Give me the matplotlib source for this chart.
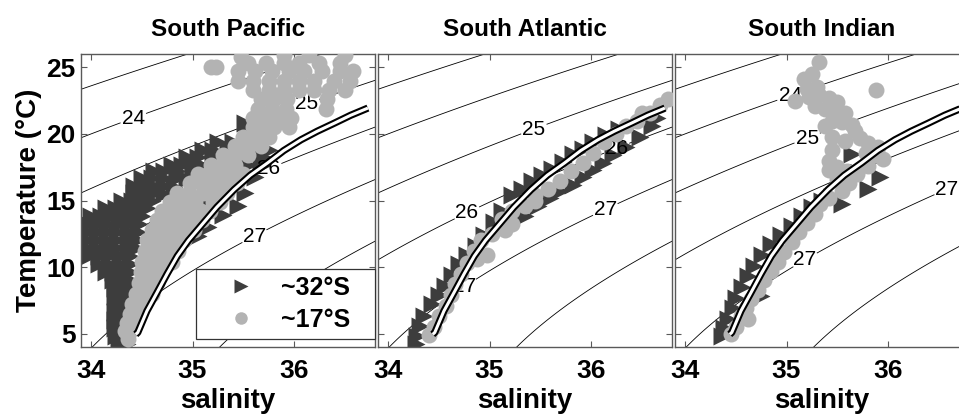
import numpy as np
import matplotlib
matplotlib.use('Agg')
import matplotlib.pyplot as plt
from matplotlib.lines import Line2D

plt.rcParams['font.family'] = ['Liberation Sans', 'DejaVu Sans']

titles = ['South Pacific', 'South Atlantic', 'South Indian']
legend_labels = ['~32\u00b0S', '~17\u00b0S']
sig_levels = [22, 23, 24, 25, 26, 27, 28]

# reference curve (salinity, temperature)
curve_s = [34.44, 34.46, 34.55, 34.65, 34.75, 34.85, 34.96, 35.08, 35.24, 35.41,
           35.57, 35.74, 35.90, 36.07, 36.23, 36.40, 36.56, 36.73]
curve_t = [4.95, 5.09, 6.70, 8.09, 9.50, 10.83, 12.00, 13.07, 14.50, 15.82,
           16.90, 17.82, 18.75, 19.56, 20.20, 20.81, 21.40, 21.94]

# contour label spots (S, T)
lab_pac = [(34.42, 21.1), (36.13, 22.1), (35.75, 17.44), (35.61, 12.33)]
lab_atl = [(35.44, 20.31), (36.26, 18.8), (34.78, 14.02), (36.15, 14.2), (34.76, 8.46)]
lab_ind = [(35.04, 22.76), (35.21, 19.56), (35.68, 17.0), (36.59, 15.7), (35.19, 10.45)]

# ~32S, South Pacific
pac_dark = [
    (35.52, 20.8), (35.55, 20.2), (35.25, 19.4), (35.4, 19.4), (35.35, 18.9),
    (35.1, 18.8), (35.2, 18.8), (35.75, 18.8),
    (34.95, 18.3), (35.05, 18.3), (35.2, 18.3), (35.7, 18.3),
    (34.8, 17.7), (34.9, 17.7), (35.0, 17.7), (35.1, 17.6), (35.55, 17.7), (35.68, 17.6),
    (34.62, 17.2), (34.72, 17.2), (34.85, 17.2), (35.0, 17.2),
    (34.5, 16.7), (34.6, 16.7), (34.72, 16.7), (34.85, 16.7), (34.95, 16.6), (35.5, 16.7), (35.62, 16.8),
    (34.42, 16.1), (34.52, 16.1), (34.62, 16.1), (34.72, 16.1), (34.82, 16.0),
    (34.42, 15.6), (34.52, 15.6), (34.62, 15.6), (34.72, 15.5), (35.3, 15.5), (35.52, 15.6),
    (34.3, 15.0), (34.4, 15.0), (34.5, 15.0), (34.6, 15.0), (35.05, 15.1), (35.15, 15.0),
    (34.15, 14.4), (34.25, 14.4), (34.35, 14.4), (34.45, 14.4), (34.55, 14.4), (35.1, 14.4), (35.45, 14.6),
    (34.0, 13.8), (34.1, 13.8), (34.2, 13.8), (34.3, 13.8), (34.4, 13.8), (34.5, 13.8), (35.3, 13.9),
    (33.97, 13.2), (34.07, 13.2), (34.17, 13.2), (34.27, 13.2), (34.37, 13.2), (34.47, 13.2), (35.15, 13.0),
    (33.96, 12.6), (34.06, 12.6), (34.16, 12.6), (34.26, 12.6), (34.36, 12.6), (34.46, 12.6), (35.05, 12.3),
    (33.96, 12.0), (34.06, 12.0), (34.16, 12.0), (34.26, 12.0), (34.36, 12.0), (34.45, 12.0),
    (33.96, 11.4), (34.06, 11.4), (34.16, 11.4), (34.26, 11.4), (34.36, 11.4), (34.44, 11.4),
    (33.98, 10.8), (34.08, 10.8), (34.18, 10.8), (34.28, 10.8), (34.38, 10.8),
    (34.08, 10.2), (34.18, 10.2), (34.28, 10.2), (34.38, 10.2),
    (34.15, 9.6), (34.22, 9.6), (34.3, 9.6), (34.38, 9.6),
    (34.22, 9.0), (34.3, 9.0), (34.38, 9.0),
    (34.24, 8.4), (34.32, 8.4), (34.4, 8.4),
    (34.24, 7.8), (34.32, 7.8), (34.25, 7.2), (34.33, 7.2),
    (34.24, 6.6), (34.32, 6.6), (34.24, 6.0), (34.32, 6.0),
    (34.24, 5.4), (34.32, 5.4), (34.25, 4.8), (34.33, 4.8),
    (34.27, 4.2), (34.35, 4.2),
]

# ~17S, South Pacific
pac_light = [
    (34.36, 4.6), (34.33, 5.2), (34.38, 5.2), (34.35, 5.8), (34.42, 5.8),
    (34.38, 6.5), (34.47, 6.5), (34.4, 7.2), (34.5, 7.2), (34.44, 8.0), (34.54, 8.0), (34.6, 8.0),
    (34.47, 8.8), (34.57, 8.8), (34.65, 8.8),
    (34.49, 9.6), (34.6, 9.6), (34.7, 9.6),
    (34.5, 10.4), (34.62, 10.4), (34.74, 10.4), (34.8, 10.4),
    (34.53, 11.2), (34.64, 11.2), (34.76, 11.2), (34.86, 11.2),
    (34.55, 12.0), (34.67, 12.0), (34.79, 12.0), (34.92, 12.0),
    (34.6, 12.8), (34.72, 12.8), (34.84, 12.8), (34.96, 12.8), (35.01, 12.8),
    (34.65, 13.5), (34.77, 13.5), (34.9, 13.5), (35.03, 13.5), (35.09, 13.5),
    (34.7, 14.2), (34.82, 14.2), (34.95, 14.2), (35.08, 14.2), (35.17, 14.2),
    (34.78, 14.9), (34.9, 14.9), (35.02, 14.9), (35.2, 14.9), (35.27, 14.9),
    (34.85, 15.6), (34.97, 15.6), (35.1, 15.6), (35.22, 15.6), (35.34, 15.6),
    (34.98, 16.3), (35.08, 16.3), (35.2, 16.3), (35.32, 16.3), (35.44, 16.3),
    (35.05, 17.0), (35.15, 17.0), (35.28, 17.0), (35.4, 17.0), (35.5, 17.0),
    (35.18, 17.7), (35.3, 17.7), (35.42, 17.7),
    (35.3, 18.4), (35.42, 18.4), (35.55, 18.4),
    (35.42, 19.1), (35.55, 19.1), (35.68, 19.1),
    (35.5, 19.8), (35.62, 19.8), (35.75, 19.8),
    (35.6, 20.5), (35.7, 20.5), (35.8, 20.5), (35.95, 20.5),
    (35.6, 21.2), (35.72, 21.2), (35.85, 21.2), (35.97, 21.2),
    (35.65, 21.9), (35.78, 21.9), (35.92, 21.9), (36.32, 21.9),
    (35.68, 22.6), (35.8, 22.6), (35.93, 22.6), (36.33, 22.6),
    (35.6, 23.3), (35.75, 23.3), (35.9, 23.3), (36.05, 23.3), (36.2, 23.3), (36.35, 23.3), (36.5, 23.3),
    (35.45, 24.0), (35.6, 24.0), (35.75, 24.0), (35.9, 24.0), (36.05, 24.0), (36.2, 24.0), (36.4, 24.0), (36.55, 24.0),
    (35.45, 24.7), (35.62, 24.7), (35.78, 24.7), (35.95, 24.7), (36.1, 24.7), (36.28, 24.7), (36.45, 24.7), (36.58, 24.7),
    (35.55, 25.3), (35.72, 25.3), (35.9, 25.3), (36.05, 25.3), (36.25, 25.3), (36.45, 25.3),
    (35.48, 25.8), (35.9, 25.9), (36.15, 25.9), (36.5, 25.9),
    (35.18, 25.0), (35.23, 25.0),
]

# ~32S, South Atlantic
atl_dark = [
    (34.27, 4.2), (34.28, 4.85), (34.31, 5.6), (34.35, 6.3), (34.43, 7.2), (34.5, 7.9),
    (34.56, 8.6), (34.63, 9.4), (34.7, 10.2), (34.78, 10.9), (34.87, 11.6), (34.95, 12.4),
    (35.04, 13.4), (35.12, 14.2), (35.22, 15.4), (35.32, 15.9), (35.42, 16.5), (35.52, 16.9),
    (35.62, 17.4), (35.72, 17.9), (35.82, 18.5), (35.92, 18.9), (36.02, 19.4), (36.15, 19.9),
    (36.28, 20.4),
    (35.35, 13.8), (35.48, 14.6), (35.6, 15.2), (35.7, 15.7), (35.82, 16.2), (35.92, 16.8),
    (36.02, 17.3), (36.12, 17.8), (36.22, 18.4), (36.35, 19.0), (36.48, 19.8), (36.6, 20.6),
    (36.65, 21.2),
]

# ~17S, South Atlantic
atl_light = [
    (34.4, 4.9), (34.45, 5.5), (34.5, 6.3), (34.57, 7.1), (34.62, 7.9), (34.66, 8.7),
    (34.72, 9.5), (34.78, 10.3), (34.88, 10.6), (34.98, 10.9), (34.85, 11.2), (34.92, 12.0),
    (35.02, 12.5), (35.15, 12.8), (35.22, 13.2), (35.12, 13.6), (35.22, 14.2), (35.35, 14.6),
    (35.45, 15.0), (35.45, 15.4), (35.58, 15.9), (35.7, 16.5), (35.8, 17.2), (35.92, 17.8),
    (36.02, 18.6), (36.13, 19.4), (36.25, 20.0), (36.35, 20.6), (36.45, 21.0), (36.58, 21.6),
    (36.68, 22.2), (36.76, 22.6), (36.5, 21.6),
]

# ~32S, South Indian
ind_dark = [
    (34.36, 4.8), (34.38, 5.4), (34.42, 6.1), (34.47, 6.9), (34.5, 7.7), (34.56, 8.5),
    (34.62, 9.3), (34.68, 10.1), (34.76, 10.9), (34.85, 11.7), (34.95, 12.4), (35.05, 13.1),
    (35.15, 13.8), (35.25, 14.5), (35.35, 15.0), (35.45, 15.3), (35.55, 14.7),
    (35.8, 15.9), (35.92, 16.8), (35.65, 18.5), (34.75, 7.8),
]

# ~17S, South Indian
ind_light = [
    (35.32, 25.4), (35.25, 24.5), (35.17, 24.1), (35.88, 23.3), (35.08, 22.45),
    (35.2, 23.4), (35.3, 23.5), (35.22, 22.8), (35.32, 22.9), (35.42, 22.7), (35.5, 22.4),
    (35.28, 22.1), (35.38, 21.9), (35.48, 21.8), (35.58, 21.6),
    (35.38, 20.6), (35.45, 21.0), (35.55, 20.9), (35.65, 20.7), (35.68, 20.2),
    (35.45, 19.8), (35.58, 19.5), (35.72, 19.7), (35.8, 19.3), (35.9, 19.0),
    (35.45, 18.8), (35.78, 18.6), (35.88, 18.4), (35.95, 18.1),
    (35.42, 18.0), (35.5, 17.5), (35.42, 17.3), (35.6, 17.2), (35.7, 17.0), (35.8, 17.6),
    (35.5, 16.6), (35.62, 16.3), (35.55, 15.7),
    (35.33, 14.7), (35.42, 15.2), (35.28, 14.0), (35.2, 13.3), (35.12, 12.6), (35.05, 11.9),
    (34.98, 11.1), (34.92, 10.4), (34.85, 9.7), (34.78, 9.0), (34.72, 8.3), (34.65, 7.6),
    (34.6, 6.9), (34.55, 6.3), (34.62, 6.1), (34.5, 5.5), (34.45, 5.0),
]

darks = [pac_dark, atl_dark, ind_dark]
lights = [pac_light, atl_light, ind_light]
label_spots = [lab_pac, lab_atl, lab_ind]


def sigma0(s, t):
    # UNESCO EOS-80 at the surface
    rw = (999.842594 + 6.793952e-2 * t - 9.095290e-3 * t**2 + 1.001685e-4 * t**3
          - 1.120083e-6 * t**4 + 6.536332e-9 * t**5)
    a = 8.24493e-1 - 4.0899e-3 * t + 7.6438e-5 * t**2 - 8.2467e-7 * t**3 + 5.3875e-9 * t**4
    b = -5.72466e-3 + 1.0227e-4 * t - 1.6546e-6 * t**2
    c = 4.8314e-4
    return rw + a * s + b * s**1.5 + c * s**2 - 1000.0


SS, TT = np.meshgrid(np.linspace(33.5, 37.5, 300), np.linspace(2, 28, 300))
SIG = sigma0(SS, TT)

dark_c = '#3d3d3d'
light_c = '#b3b3b3'

fig = plt.figure(figsize=(9.59, 4.17), dpi=100)
lefts = [81, 378, 675]

for i in range(3):
    ax = fig.add_axes([lefts[i] / 959, 70 / 417, 294 / 959, 293 / 417])
    ax.set_xlim(33.9, 36.8)
    ax.set_ylim(4, 26)

    cs = ax.contour(SS, TT, SIG, levels=sig_levels, colors='k', linewidths=0.6, zorder=1)
    labs = ax.clabel(cs, fmt='%d', fontsize=15, inline=True, inline_spacing=2,
                     manual=label_spots[i])
    for t in labs:
        t.set_rotation(0)

    d = np.array(darks[i])
    l = np.array(lights[i])
    ax.plot(d[:, 0], d[:, 1], '>', ms=13, color=dark_c, mec='none', zorder=2)
    ax.plot(l[:, 0], l[:, 1], 'o', ms=11.5, color=light_c, mec='none', zorder=3)

    ax.plot(curve_s, curve_t, color='k', lw=5.2, solid_capstyle='butt', zorder=4)
    ax.plot(curve_s, curve_t, color='w', lw=2.2, solid_capstyle='butt', zorder=5)

    ax.set_xticks([34, 35, 36])
    ax.set_yticks([5, 10, 15, 20, 25])
    ax.tick_params(direction='in', top=True, right=True, length=4, width=0.8,
                   color='0.35', labelsize=19, pad=9)
    ax.tick_params(axis='y', pad=4)
    for lab in ax.get_xticklabels() + ax.get_yticklabels():
        lab.set_fontweight('bold')
    for sp in ax.spines.values():
        sp.set_color('0.35')
        sp.set_linewidth(1.0)

    ax.set_xlabel('salinity', fontsize=20, fontweight='bold', labelpad=3)
    ax.set_title(titles[i], fontsize=17.5, fontweight='bold', pad=13)

    if i == 0:
        ax.set_ylabel('Temperature (\u00b0C)', fontsize=20, fontweight='bold', labelpad=3)
        handles = [Line2D([], [], ls='none', marker='>', ms=10, color=dark_c, mec='none'),
                   Line2D([], [], ls='none', marker='o', ms=9, color=light_c, mec='none')]
        leg = ax.legend(handles, legend_labels, loc='lower left',
                        bbox_to_anchor=(0.391, 0.027, 0.609, 0.25), mode='expand',
                        borderaxespad=0, fancybox=False, edgecolor='0.2', framealpha=1,
                        prop={'weight': 'bold', 'size': 18}, handlelength=3.0,
                        handletextpad=0.1, borderpad=0.3, labelspacing=0.3)
        leg.get_frame().set_linewidth(0.9)
        leg.set_zorder(6)
    else:
        ax.set_yticklabels([])

fig.savefig('out.png', dpi=100)
